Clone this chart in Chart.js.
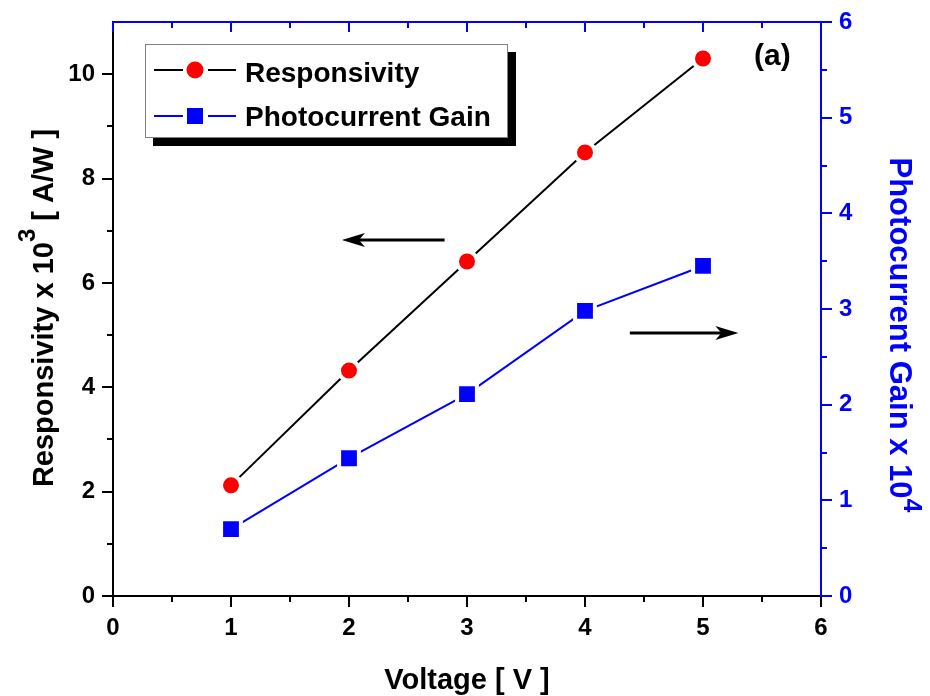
<!DOCTYPE html>
<html>
<head>
<meta charset="utf-8">
<script src="https://cdn.jsdelivr.net/npm/chart.js@4.4.1/dist/chart.umd.min.js"></script>
<style>
  html, body { margin: 0; padding: 0; background: #fff; }
  #wrap { width: 930px; height: 696px; }
</style>
</head>
<body>
<div id="wrap"><canvas id="gainChart" width="930" height="696"></canvas></div>
<script>
// values
const voltage = [1, 2, 3, 4, 5];
const responsivity = [2.12, 4.32, 6.41, 8.5, 10.3]; // x 10^3 A/W
const photoGain = [0.70, 1.44, 2.11, 2.98, 3.45];   // x 10^4

const xTicks = [0, 1, 2, 3, 4, 5, 6];
const leftTicks = [0, 2, 4, 6, 8, 10];
const rightTicks = [0, 1, 2, 3, 4, 5, 6];

const FONT = "'Liberation Sans', Arial, sans-serif";
const BLUE = "#0000ff";
const RED = "#ff0000";

Chart.defaults.font.family = FONT;
Chart.defaults.font.weight = "bold";

const toPoints = (ys) => voltage.map((v, i) => ({ x: v, y: ys[i] }));
const setTicks = (list) => (scale) => { scale.ticks = list.map((v) => ({ value: v })); };

// helper: draw text made of parts (superscripts get a raise)
const drawParts = (ctx, parts, color) => {
  let total = 0;
  parts.forEach((p) => {
    ctx.font = `bold ${p.size}px ${FONT}`;
    p.w = ctx.measureText(p.text).width;
    total += p.w;
  });
  let x = -total / 2;
  ctx.fillStyle = color;
  ctx.textAlign = "left";
  ctx.textBaseline = "alphabetic";
  parts.forEach((p) => {
    ctx.font = `bold ${p.size}px ${FONT}`;
    ctx.fillText(p.text, x, -(p.raise || 0));
    x += p.w;
  });
};

const drawArrow = (ctx, x1, y1, x2, y2) => {
  const dir = Math.sign(x2 - x1);
  ctx.save();
  ctx.strokeStyle = "#000";
  ctx.fillStyle = "#000";
  ctx.lineWidth = 3;
  ctx.beginPath();
  ctx.moveTo(x1, y1);
  ctx.lineTo(x2 - dir * 14, y2);
  ctx.stroke();
  ctx.beginPath();
  ctx.moveTo(x2, y2);
  ctx.lineTo(x2 - dir * 23, y2 - 7);
  ctx.lineTo(x2 - dir * 17, y2);
  ctx.lineTo(x2 - dir * 23, y2 + 7);
  ctx.closePath();
  ctx.fill();
  ctx.restore();
};

const decorations = {
  id: "decorations",
  afterDraw(chart) {
    const { ctx, chartArea: area } = chart;
    const sx = chart.scales.x, sy = chart.scales.y, sy2 = chart.scales.y2;
    ctx.save();

    // minor ticks on bottom axis, and the blue top axis with inward ticks
    ctx.lineWidth = 2;
    ctx.strokeStyle = "#000";
    ctx.beginPath();
    for (let v = 0.5; v < 6; v += 1) {
      const px = Math.round(sx.getPixelForValue(v));
      ctx.moveTo(px, area.bottom);
      ctx.lineTo(px, area.bottom + 6);
    }
    ctx.stroke();

    ctx.strokeStyle = BLUE;
    ctx.beginPath();
    ctx.moveTo(area.left, area.top);
    ctx.lineTo(area.right, area.top);
    for (let v = 0; v <= 6; v += 0.5) {
      const px = Math.round(sx.getPixelForValue(v));
      ctx.moveTo(px, area.top);
      ctx.lineTo(px, area.top + (v % 1 === 0 ? 10 : 6));
    }
    ctx.stroke();

    // minor ticks on left and right axes
    ctx.strokeStyle = "#000";
    ctx.beginPath();
    for (let v = 1; v < 11; v += 2) {
      const py = Math.round(sy.getPixelForValue(v));
      ctx.moveTo(area.left, py);
      ctx.lineTo(area.left - 6, py);
    }
    ctx.stroke();
    ctx.strokeStyle = BLUE;
    ctx.beginPath();
    for (let v = 0.5; v < 6; v += 1) {
      const py = Math.round(sy2.getPixelForValue(v));
      ctx.moveTo(area.right, py);
      ctx.lineTo(area.right + 6, py);
    }
    ctx.stroke();

    // arrows pointing at each series' axis
    const la = sy.getPixelForValue(6.82);
    drawArrow(ctx, sx.getPixelForValue(2.81), la, sx.getPixelForValue(1.94), la);
    const ra = sy2.getPixelForValue(2.75);
    drawArrow(ctx, sx.getPixelForValue(4.38), ra, sx.getPixelForValue(5.3), ra);

    // legend box with drop shadow
    const lg = { x: 145, y: 44, w: 363, h: 94 };
    ctx.fillStyle = "#000";
    ctx.fillRect(lg.x + 8, lg.y + 8, lg.w, lg.h);
    ctx.fillStyle = "#fff";
    ctx.fillRect(lg.x, lg.y, lg.w, lg.h);
    ctx.strokeStyle = "#808080";
    ctx.lineWidth = 1;
    ctx.strokeRect(lg.x + 0.5, lg.y + 0.5, lg.w - 1, lg.h - 1);

    const rows = [
      { label: chart.data.datasets[0].label, y: 70, line: "#000", fill: RED, shape: "circle", base: 82 },
      { label: chart.data.datasets[1].label, y: 116, line: BLUE, fill: BLUE, shape: "rect", base: 126 },
    ];
    rows.forEach((r) => {
      ctx.strokeStyle = r.line;
      ctx.lineWidth = 2;
      ctx.beginPath();
      ctx.moveTo(154, r.y);
      ctx.lineTo(183, r.y);
      ctx.moveTo(208, r.y);
      ctx.lineTo(236, r.y);
      ctx.stroke();
      ctx.fillStyle = r.fill;
      ctx.beginPath();
      if (r.shape === "circle") ctx.arc(195, r.y, 8.5, 0, Math.PI * 2);
      else ctx.rect(187, r.y - 8, 16, 16);
      ctx.fill();
      ctx.fillStyle = "#000";
      ctx.font = `bold 28px ${FONT}`;
      ctx.textAlign = "left";
      ctx.textBaseline = "alphabetic";
      ctx.fillText(r.label, 245, r.base);
    });

    // panel label
    ctx.font = `bold 30px ${FONT}`;
    ctx.fillStyle = "#000";
    ctx.fillText("(a)", 754, 65);

    // axis titles
    ctx.save();
    ctx.translate((area.left + area.right) / 2, 689);
    drawParts(ctx, [{ text: "Voltage [ V ]", size: 29 }], "#000");
    ctx.restore();

    ctx.save();
    ctx.translate(53, 308);
    ctx.rotate(-Math.PI / 2);
    drawParts(ctx, [
      { text: "Responsivity x 10", size: 29 },
      { text: "3", size: 24, raise: 18 },
      { text: " [ A/W ]", size: 29 },
    ], "#000");
    ctx.restore();

    ctx.save();
    ctx.translate(890, 335);
    ctx.rotate(Math.PI / 2);
    drawParts(ctx, [
      { text: "Photocurrent Gain x 10", size: 31 },
      { text: "4", size: 25, raise: 14 },
    ], BLUE);
    ctx.restore();

    ctx.restore();
  },
};

const axisStyle = (color, size) => ({
  grid: { drawOnChartArea: false, tickLength: 11, color: color, lineWidth: 2 },
  border: { color: color, width: 2 },
  ticks: { color: color, font: { size: size, weight: "bold" }, padding: 7, maxRotation: 0 },
});

const ctx = document.getElementById("gainChart").getContext("2d");
new Chart(ctx, {
  type: "scatter",
  data: {
    datasets: [
      {
        label: "Responsivity",
        data: toPoints(responsivity),
        yAxisID: "y",
        showLine: true,
        borderColor: "#000",
        borderWidth: 2,
        pointStyle: "circle",
        pointRadius: 10,
        pointBackgroundColor: RED,
        pointBorderColor: "#fff",
        pointBorderWidth: 4,
      },
      {
        label: "Photocurrent Gain",
        data: toPoints(photoGain),
        yAxisID: "y2",
        showLine: true,
        borderColor: BLUE,
        borderWidth: 2,
        pointStyle: "rect",
        pointRadius: 14,
        pointBackgroundColor: BLUE,
        pointBorderColor: "#fff",
        pointBorderWidth: 4,
      },
    ],
  },
  options: {
    responsive: false,
    animation: false,
    devicePixelRatio: 1,
    layout: { padding: { top: 22, left: 0, right: 0, bottom: 0 } },
    plugins: { legend: { display: false }, tooltip: { enabled: false } },
    scales: {
      x: {
        type: "linear",
        min: 0,
        max: 6,
        afterBuildTicks: setTicks(xTicks),
        afterFit: (s) => { s.height = 100; },
        ...axisStyle("#000", 24),
      },
      y: {
        type: "linear",
        position: "left",
        min: 0,
        max: 11,
        afterBuildTicks: setTicks(leftTicks),
        afterFit: (s) => { s.width = 113; },
        ...axisStyle("#000", 24),
      },
      y2: {
        type: "linear",
        position: "right",
        min: 0,
        max: 6,
        afterBuildTicks: setTicks(rightTicks),
        afterFit: (s) => { s.width = 109; },
        ...axisStyle(BLUE, 24),
      },
    },
  },
  plugins: [decorations],
});
</script>
</body>
</html>
